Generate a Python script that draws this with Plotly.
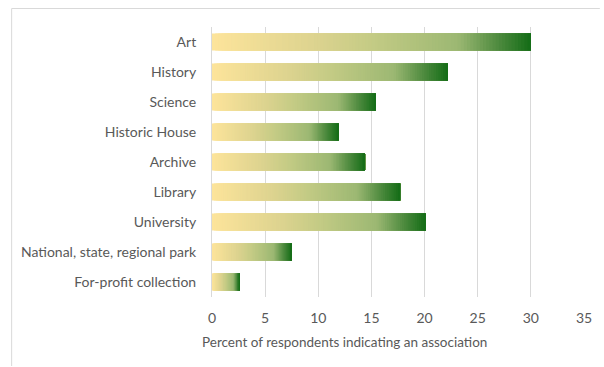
import plotly.graph_objects as go

categories = ["Art", "History", "Science", "Historic House", "Archive", "Library",
              "University", "National, state, regional park", "For-profit collection"]
values = [30.0, 22.2, 15.4, 11.9, 14.4, 17.7, 20.1, 7.5, 2.6]
x_ticks = [0, 5, 10, 15, 20, 25, 30, 35]
x_title = "Percent of respondents indicating an association"

# gradient stops (fraction along each bar, rgb)
stops = [(0.0, (253, 228, 155)), (0.33, (220, 211, 143)), (0.5, (196, 203, 133)),
         (0.77, (156, 184, 115)), (0.9, (77, 138, 62)), (1.0, (19, 108, 22))]
N = 100


def grad(t):
    for (t0, c0), (t1, c1) in zip(stops[:-1], stops[1:]):
        if t <= t1:
            f = (t - t0) / (t1 - t0) if t1 > t0 else 0
            return "rgb(%d,%d,%d)" % tuple(round(a + (b - a) * f) for a, b in zip(c0, c1))
    return "rgb(%d,%d,%d)" % stops[-1][1]


fig = go.Figure()
for j in range(N):
    base = [v * j / N for v in values]
    fig.add_trace(go.Bar(
        y=categories,
        x=[v - b for v, b in zip(values, base)],
        base=base,
        orientation="h",
        marker=dict(color=grad((j + 0.5) / N), line=dict(width=0)),
        showlegend=False,
        hoverinfo="skip",
    ))

# plot area in pixels: x 212..588, y 27..297
L, R, T, B = 212, 16, 27, 70
W, H = 604, 367
pw, ph = W - L - R, H - T - B


def px_x(p):
    return (p - L) / pw


def px_y(p):
    return (H - B - p) / ph


font = "Lato, Liberation Sans, sans-serif"
frame = dict(color="#d9d9d9", width=1)
fig.update_layout(
    width=W, height=H, autosize=False,
    barmode="overlay", bargap=0.44,
    paper_bgcolor="white", plot_bgcolor="white",
    margin=dict(l=L, r=R, t=T, b=B),
    font=dict(family=font, size=14, color="#595959"),
    xaxis=dict(
        range=[0, 35], tickvals=x_ticks, ticktext=[str(t) for t in x_ticks],
        showgrid=True, gridcolor="#d9d9d9", gridwidth=1,
        zeroline=False, showline=False,
        ticks="outside", ticklen=8, tickcolor="rgba(0,0,0,0)",
        tickfont=dict(size=14, color="#595959"),
    ),
    yaxis=dict(
        autorange="reversed", showgrid=False, zeroline=False,
        showline=True, linecolor="#d9d9d9", linewidth=1,
        ticks="outside", ticklen=12, tickcolor="rgba(0,0,0,0)",
        tickfont=dict(size=14, color="#595959"),
    ),
    annotations=[dict(text=x_title, xref="paper", yref="paper",
                      x=px_x(346), y=px_y(342), xanchor="center", yanchor="middle",
                      showarrow=False, font=dict(size=13.5, color="#595959"))],
    shapes=[
        dict(type="line", xref="paper", yref="paper",
             x0=px_x(9.5), x1=px_x(9.5), y0=px_y(366), y1=px_y(8.5), line=frame, layer="below"),
        dict(type="line", xref="paper", yref="paper",
             x0=px_x(9.5), x1=px_x(604), y0=px_y(8.5), y1=px_y(8.5), line=frame, layer="below"),
    ],
)

fig.write_html("out.html")
